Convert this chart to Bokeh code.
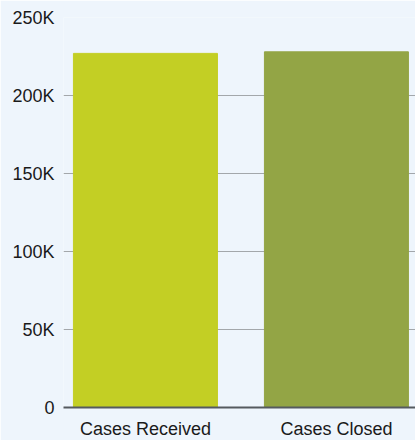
from bokeh.plotting import figure
from bokeh.models import FixedTicker, ColumnDataSource, Range1d
from bokeh.embed import file_html
from bokeh.resources import INLINE

categories = ["Cases Received", "Cases Closed"]
values = [227000, 228000]
colors = ["#C3CF24", "#93A545"]
y_ticks = [0, 50000, 100000, 150000, 200000, 250000]
y_tick_labels = ["0", "50K", "100K", "150K", "200K", "250K"]

BG = "#EEF5FC"
xs = list(range(len(categories)))
src = ColumnDataSource(dict(x=xs, top=values, color=colors))

p = figure(output_backend="svg", toolbar_location=None,
           frame_width=352, frame_height=390,
           x_range=Range1d(-0.429, 1.414), y_range=Range1d(0, 250000),
           min_border_left=63, min_border_right=0, min_border_top=17, min_border_bottom=33,
           background_fill_color=BG, border_fill_color=BG, outline_line_color=None)

p.vbar(x="x", top="top", width=0.754, color="color", source=src)

p.xgrid.grid_line_color = None
p.ygrid.ticker = FixedTicker(ticks=y_ticks)
p.ygrid.grid_line_color = "#A3A7AB"
p.ygrid.grid_line_width = 1

p.yaxis.ticker = FixedTicker(ticks=y_ticks)
p.yaxis.major_label_overrides = {t: l for t, l in zip(y_ticks, y_tick_labels)}
p.yaxis.axis_line_color = None
p.yaxis.major_tick_line_color = None
p.yaxis.minor_tick_line_color = None
p.yaxis.major_label_standoff = 3
p.yaxis.major_label_text_font = "Liberation Sans"
p.yaxis.major_label_text_font_size = "18px"
p.yaxis.major_label_text_color = "#1A1A1A"

p.xaxis.ticker = FixedTicker(ticks=xs)
p.xaxis.major_label_overrides = {i: c for i, c in zip(xs, categories)}
p.xaxis.axis_line_color = "#555A5F"
p.xaxis.axis_line_width = 2
p.xaxis.major_tick_line_color = None
p.xaxis.minor_tick_line_color = None
p.xaxis.major_label_standoff = 5
p.xaxis.major_label_text_font = "Liberation Sans"
p.xaxis.major_label_text_font_size = "18px"
p.xaxis.major_label_text_color = "#1A1A1A"

html = file_html(p, INLINE)
html = html.replace("<body>", '<body style="background:%s">' % BG, 1)
open("out.html", "w").write(html)
